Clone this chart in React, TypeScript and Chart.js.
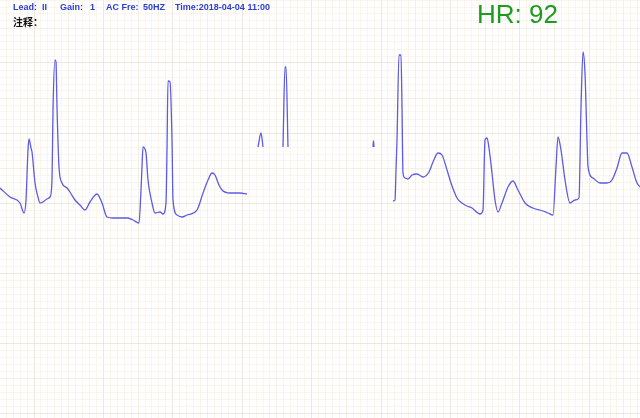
import React, { useEffect, useRef } from "react";
import { Chart, registerables } from "chart.js";

Chart.register(...registerables);

// ECG trace: sample time index and amplitude (0.01 mV units), null = signal gap
const sampleTimes: number[] = [
  0, 10, 20, 24, 26, 28, 29, 31, 32, 35, 38, 40, 43, 47, 50, 52, 53, 55, 56, 57, 59, 62, 67, 70, 75, 80, 85, 90, 97, 102,
  107, 113, 120, 127, 133, 139, 141, 142, 143, 146, 148, 152, 155, 160, 163, 166, 167, 168, 170, 172, 173, 177, 182, 187,
  197, 203, 208, 212, 215, 219, 222, 230, 240, 247,
  250,
  258, 261, 263,
  270,
  283, 285, 286, 288,
  300,
  373, 373.5, 374,
  380,
  393, 395, 396, 397, 399, 401, 402, 403, 405, 408, 412, 417, 423, 429, 433, 438, 442, 447, 451, 457, 462, 467, 472, 480,
  483, 485, 487, 489, 492, 495, 498, 502, 508, 513, 518, 525, 533, 543, 548, 553, 556, 558, 561, 565, 570, 575, 579, 581,
  583, 585, 587, 588, 593, 600, 607, 612, 617, 622, 627, 632, 637, 640,
];
const amplitudes: (number | null)[] = [
  12, 3, -3, -13, 0, 50, 61, 52, 48, 17, 3, -3, -2, 1, 3, 20, 90, 140, 138, 93, 33, 17, 12, 8, 0, -5, -10, -2, 6, -3,
  -17, -18, -18, -18, -20, -23, 10, 33, 53, 47, 20, -3, -13, -12, -14, -3, 50, 119, 118, 60, 0, -15, -17, -15,
  -10, 7, 20, 27, 25, 15, 10, 7, 7, 6,
  null,
  53, 67, 53,
  null,
  53, 133, 133, 53,
  null,
  53, 59, 53,
  null,
  -1, 0, 30, 60, 145, 145, 93, 27, 22, 21, 25, 26, 23, 28, 38, 47, 45, 30, 17, 2, -3, -6, -8, -14,
  -10, 60, 62, 52, 27, 0, -12, -3, 13, 19, 10, -3, -8, -11, -13, -15, 33, 63, 50, 20, -3, 0, 2, 93,
  148, 127, 60, 33, 22, 17, 17, 20, 32, 47, 47, 33, 17, 13,
];

const headerLabels: string[] = ["Lead:", "II", "Gain:", "1", "AC Fre:", "50HZ", "Time:2018-04-04 11:00"];
const noteLabel = "注释：";
const heartRateLabel = "HR: 92";

const headerX = [13, 42, 60, 90, 106, 143, 175];

function makeTicks(min: number, max: number, origin: number, step: number) {
  const out: { value: number; major: boolean; mid: boolean }[] = [];
  for (let k = -200; k <= 200; k++) {
    const v = origin + k * step;
    if (v < min || v > max) continue;
    out.push({ value: v, major: k % 10 === 0, mid: k % 5 === 0 });
  }
  return out;
}

const textPlugin = {
  id: "ecgText",
  afterDraw(chart: any) {
    const ctx = chart.ctx;
    ctx.save();
    ctx.textBaseline = "middle";
    ctx.fillStyle = "#2b3fd0";
    ctx.font = "bold 9px 'Liberation Sans', Arial, sans-serif";
    headerLabels.forEach((t, i) => ctx.fillText(t, headerX[i], 8));
    ctx.fillStyle = "#111111";
    ctx.font = "bold 10px 'Noto Sans CJK SC', sans-serif";
    ctx.fillText(noteLabel, 13, 22);
    ctx.fillStyle = "#1e9b1e";
    ctx.font = "26px 'Liberation Sans', Arial, sans-serif";
    ctx.fillText(heartRateLabel, 477, 16);
    ctx.restore();
  },
};

export default function App() {
  const ref = useRef<HTMLCanvasElement>(null);
  useEffect(() => {
    document.body.style.margin = "0";
    const points = sampleTimes.map((t, i) => ({ x: t, y: amplitudes[i] }));
    const gridColor = (c: any) => {
      const tk = c.tick || {};
      if (tk.major) return "rgba(226,214,198,0.55)";
      if (tk.mid) return "rgba(238,224,206,0.5)";
      return "rgba(248,236,222,0.55)";
    };
    const chart = new Chart(ref.current as HTMLCanvasElement, {
      type: "line",
      data: {
        datasets: [
          {
            data: points as any,
            borderColor: "#5c5ce4",
            borderWidth: 1.3,
            pointRadius: 0,
            cubicInterpolationMode: "monotone",
            spanGaps: false,
            fill: false,
          },
        ],
      },
      options: {
        responsive: false,
        animation: false,
        layout: { padding: 0 },
        plugins: { legend: { display: false }, tooltip: { enabled: false } },
        scales: {
          x: {
            type: "linear",
            min: 0,
            max: 640,
            ticks: { display: false },
            border: { display: false },
            grid: { color: gridColor, drawTicks: false, lineWidth: 1 },
            afterBuildTicks: (s: any) => {
              s.ticks = makeTicks(0, 640, 34, 6.94);
            },
          },
          y: {
            type: "linear",
            min: -218,
            max: 200,
            ticks: { display: false },
            border: { display: false },
            grid: { color: gridColor, drawTicks: false, lineWidth: 1 },
            afterBuildTicks: (s: any) => {
              s.ticks = makeTicks(-218, 200, -143, 7);
            },
          },
        },
      },
      plugins: [textPlugin],
    });
    return () => chart.destroy();
  }, []);
  return (
    <div style={{ width: 640, height: 418, background: "#ffffff" }}>
      <canvas ref={ref} width={640} height={418} />
    </div>
  );
}
